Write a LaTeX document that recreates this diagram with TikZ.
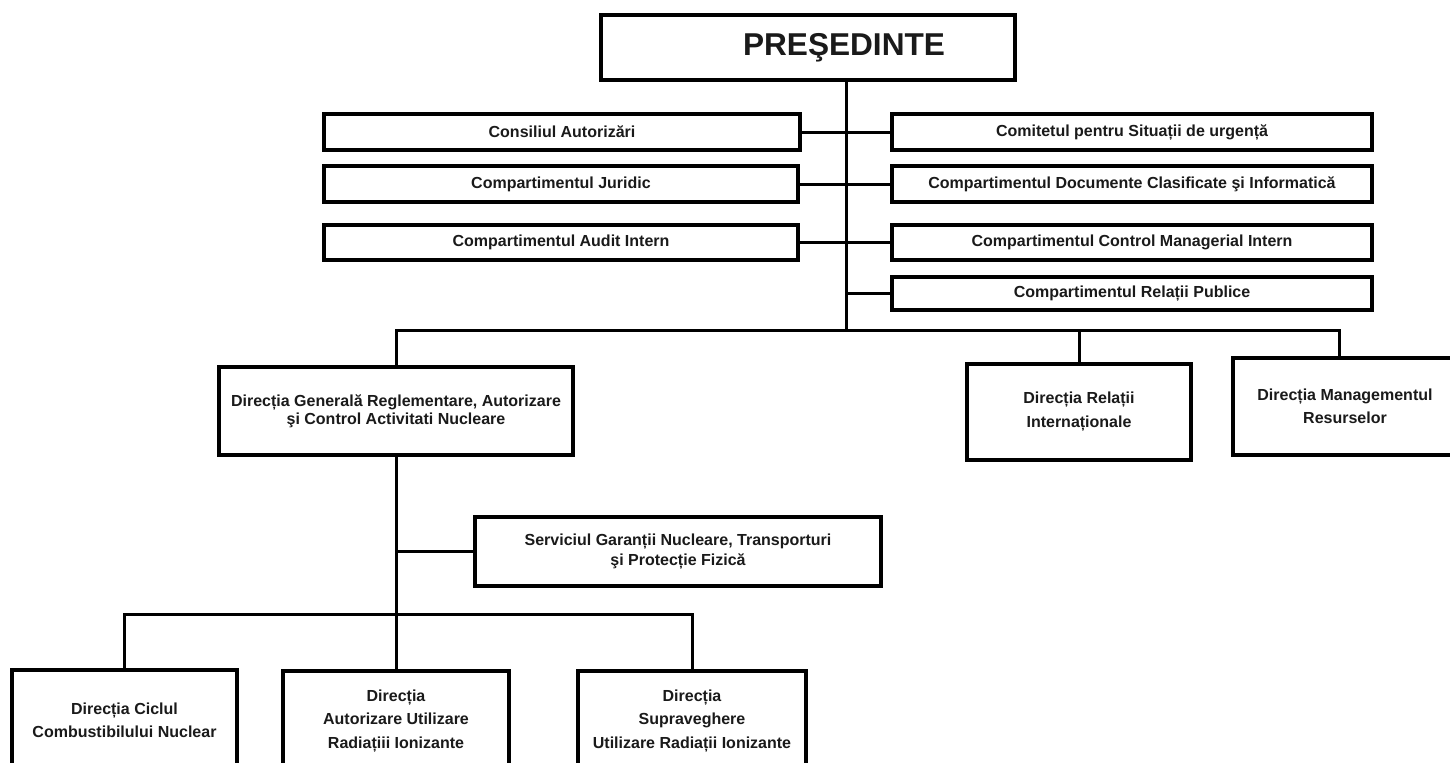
\documentclass[tikz,border=0pt]{standalone}
\usepackage{fontspec}
\setmainfont{Liberation Sans}
\definecolor{ink}{HTML}{1A1A1A}
\tikzset{
  box/.style={draw=black, line width=1.9pt, fill=white, rectangle, inner sep=0pt, align=center, text=ink, font=\bfseries\fontsize{8}{9.2}\selectfont},
  conn/.style={draw=black, line width=1.5pt},
}
\begin{document}
\begin{tikzpicture}[x=0.5pt,y=-0.5pt]
\useasboundingbox (0,0) rectangle (1450,762);
\clip (0,0) rectangle (1450,762);
\fill[white] (0,0) rectangle (1450,762);
% top
\node[box, minimum width=207pt, minimum height=32.5pt, font=\bfseries\fontsize{15.8}{18}\selectfont] (pres) at (808,47.5) {\hspace*{36pt}PREŞEDINTE};
% left column
\node[box, minimum width=238pt, minimum height=18pt] (cons) at (562,132) {Consiliul Autorizări};
\node[box, minimum width=237pt, minimum height=18pt] (jur) at (561,184) {Compartimentul Juridic};
\node[box, minimum width=237pt, minimum height=17.5pt] (aud) at (561,242.5) {Compartimentul Audit Intern};
% right column
\node[box, minimum width=240pt, minimum height=18pt] (com) at (1132,132) {Comitetul pentru Situații de urgență};
\node[box, minimum width=240pt, minimum height=18pt] (doc) at (1132,184) {Compartimentul Documente Clasificate şi Informatică};
\node[box, minimum width=240pt, minimum height=17.5pt] (ctrl) at (1132,242.5) {Compartimentul Control Managerial Intern};
\node[box, minimum width=240pt, minimum height=16.5pt] (rp) at (1132,293.5) {Compartimentul Relații Publice};
% directions
\node[box, minimum width=177pt, minimum height=44pt, font=\bfseries\fontsize{8}{9.2}\selectfont] (dg) at (396,411) {Direcția Generală Reglementare, Autorizare\\şi Control Activitati Nucleare};
\node[box, minimum width=112pt, minimum height=48pt, font=\bfseries\fontsize{8}{12}\selectfont] (dri) at (1079,412) {Direcția Relații\\Internaționale};
\node[box, minimum width=112pt, minimum height=48.5pt, font=\bfseries\fontsize{8}{11.5}\selectfont] (dmr) at (1345,406.5) {Direcția Managementul\\Resurselor};
\node[box, minimum width=203pt, minimum height=34.5pt, font=\bfseries\fontsize{8}{10}\selectfont] (serv) at (678,551.5) {Serviciul Garanții Nucleare, Transporturi\\şi Protecție Fizică};
% bottom
\node[box, minimum width=112.5pt, minimum height=50pt, font=\bfseries\fontsize{8}{11.5}\selectfont] (cic) at (124.5,720) {Direcția Ciclul\\Combustibilului Nuclear};
\node[box, minimum width=113pt, minimum height=50pt, font=\bfseries\fontsize{8}{11.75}\selectfont] (aut) at (396,721) {Direcția\\Autorizare Utilizare\\Radiațiii Ionizante};
\node[box, minimum width=114pt, minimum height=50pt, font=\bfseries\fontsize{8}{11.75}\selectfont] (sup) at (692,721) {Direcția\\Supraveghere\\Utilizare Radiații Ionizante};
% bus coordinates
\coordinate (bus) at (846,330);
\coordinate (bbus) at (396,614);
% connectors
\draw[conn] (pres.south -| bus) -- (bus);
\foreach \n in {cons,jur,aud} {\draw[conn] (\n.east) -- (\n.east -| bus);}
\foreach \n in {com,doc,ctrl,rp} {\draw[conn] (\n.west) -- (\n.west -| bus);}
\draw[conn] (dg.north) |- (bus) -| ([xshift=-3pt]dmr.north);
\draw[conn] (dri.north) -- (dri.north |- bus);
\draw[conn] (dg.south) -- (aut.north);
\draw[conn] (serv.west) -- (serv.west -| dg.south);
\draw[conn] (cic.north) |- (bbus) -| (sup.north);
\end{tikzpicture}
\end{document}
